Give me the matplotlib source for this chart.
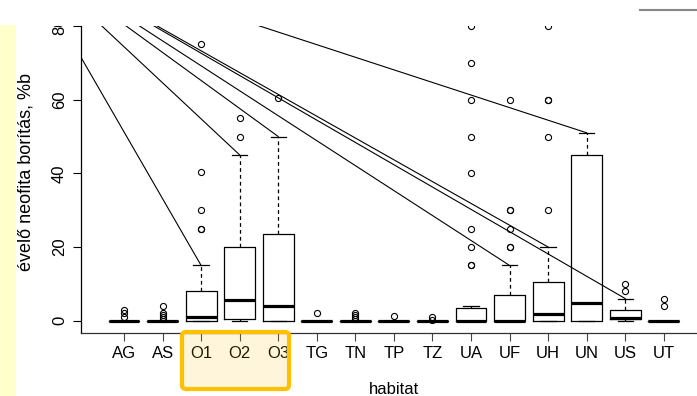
import matplotlib
matplotlib.use('Agg')
import matplotlib.pyplot as plt
from matplotlib.patches import Rectangle, FancyBboxPatch
from matplotlib.lines import Line2D
from matplotlib.transforms import Bbox, IdentityTransform

plt.rcParams['font.family'] = ['Liberation Sans', 'DejaVu Sans']

# habitat categories and box statistics
cats = ['AG', 'AS', 'O1', 'O2', 'O3', 'TG', 'TN', 'TP', 'TZ', 'UA', 'UF', 'UH', 'UN', 'US', 'UT']
q1 = [0, 0, 0, 0.5, 0, 0, 0, 0, 0, 0, 0, 0, 0, 0.5, 0]
med = [0, 0, 0.9, 5.6, 4.0, 0, 0, 0, 0, 0, 0, 1.9, 4.9, 0.8, 0]
q3 = [0, 0, 8.1, 20.1, 23.6, 0, 0, 0, 0, 3.4, 7.0, 10.4, 45.1, 3.0, 0]
whislo = [0] * 15
whishi = [0, 0, 15, 45, 50, 0, 0, 0, 0, 4, 15, 20, 51, 6, 0]
fliers = [
    [1, 2, 3],
    [0.5, 1, 1.5, 2, 4],
    [25, 25, 30, 40.5, 75],
    [50, 55],
    [60.5],
    [2],
    [0.5, 1, 1.5, 2],
    [1.3],
    [0.3, 1],
    [15, 15, 20, 25, 40, 50, 60, 70, 80],
    [20, 20, 25, 30, 30, 60],
    [30, 50, 60, 60, 80],
    [],
    [8, 10],
    [4, 6],
]
# habitats whose upper whisker gets a pointer line
pointed = ['O1', 'O2', 'O3', 'UF', 'UH', 'UN', 'US']
yticks = [0, 20, 40, 60, 80]

W, H = 697, 396
fig = plt.figure(figsize=(W / 100, H / 100), dpi=100)


def fx(px):
    return px / W


def fy(py):
    return 1 - py / H


ax = fig.add_axes([fx(81), fy(333), fx(697) - fx(81), fy(26) - fy(333)])

positions = list(range(1, len(cats) + 1))
stats = []
for i, c in enumerate(cats):
    stats.append(dict(label=c, q1=q1[i], med=med[i], q3=q3[i],
                      whislo=whislo[i], whishi=whishi[i], fliers=fliers[i]))

ax.bxp(stats, positions=positions, widths=0.8, capwidths=0.4,
       boxprops=dict(color='black', lw=0.9),
       medianprops=dict(color='black', lw=2.3, solid_capstyle='butt'),
       whiskerprops=dict(color='black', lw=0.9, linestyle=(0, (3, 2.5))),
       capprops=dict(color='black', lw=0.9),
       flierprops=dict(marker='o', markerfacecolor='none', markeredgecolor='black',
                       markersize=4.4, markeredgewidth=0.8))

# pointer lines from a common point above-left of the plot
ox, oy = -1.77, 101.5
for c in pointed:
    i = cats.index(c)
    ax.plot([ox, positions[i]], [oy, whishi[i]], color='black', lw=0.8)

ax.set_xlim(-0.115, 15.86)
ax.set_ylim(-3.34, 80)

ax.spines['top'].set_visible(False)
ax.spines['right'].set_visible(False)
ax.spines['left'].set_linewidth(0.9)
ax.spines['bottom'].set_linewidth(0.9)
ax.spines['bottom'].set_color('#333333')

ax.set_xticks(positions, cats)
ax.set_yticks(yticks)
ax.tick_params(axis='x', length=5.5, width=0.8, pad=4, labelsize=12, color='#444444')
ax.tick_params(axis='y', length=5.5, width=0.8, pad=4.5, labelsize=12, labelrotation=90)
for lbl in ax.get_yticklabels():
    lbl.set_va('center')
    lbl.set_clip_box(Bbox.from_extents(0, 0, W, H - 26))
    lbl.set_clip_on(True)

fig.text(fx(393.5), fy(389), 'habitat', ha='center', va='center', fontsize=12)
fig.text(fx(26.5), fy(172), 'évelő neofita borítás, %b', ha='center', va='center',
         rotation=90, fontsize=13)

# decorations around the chart
fig.add_artist(Rectangle((0, 0), 16, H - 25, transform=IdentityTransform(),
                         facecolor='#FFFFCC', edgecolor='none', zorder=-1))
fig.add_artist(FancyBboxPatch((182, H - 389), 107, 57,
                              boxstyle='round,pad=0,rounding_size=4',
                              transform=IdentityTransform(),
                              facecolor=(1.0, 0.75, 0.0, 0.14),
                              edgecolor='#FFC000', lw=3, zorder=5))
fig.add_artist(Line2D([640, 697], [H - 10, H - 10], transform=IdentityTransform(),
                      color='#888888', lw=1.5))

fig.savefig('out.png', dpi=100)
